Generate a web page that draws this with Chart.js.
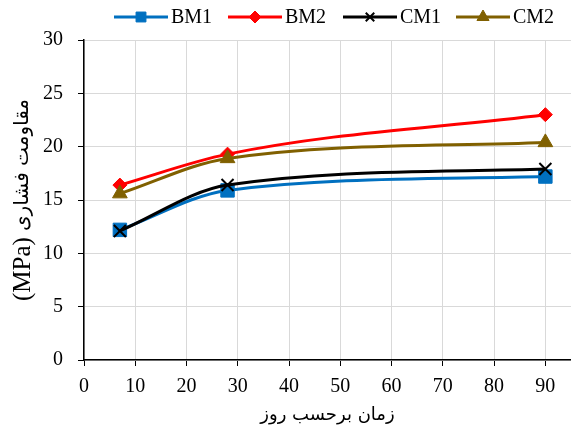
<!DOCTYPE html>
<html>
<head>
<meta charset="utf-8">
<script src="https://cdn.jsdelivr.net/npm/chart.js@4/dist/chart.umd.min.js"></script>
<style>
  html, body { margin: 0; padding: 0; background: #fff; }
  #wrap { width: 571px; height: 430px; position: relative; }
</style>
</head>
<body>
<div id="wrap"><canvas id="c" width="571" height="430"></canvas></div>
<script>
// Curing age (days) and compressive strength (MPa) per mix
const ages = [7, 28, 90];
const bm1 = [12.2, 15.9, 17.2];
const bm2 = [16.4, 19.3, 23.0];
const cm1 = [12.1, 16.4, 17.9];
const cm2 = [15.6, 18.9, 20.4];

const seriesNames = ['BM1', 'BM2', 'CM1', 'CM2'];
const xTitle = 'زمان برحسب روز';
const yTitleUnit = '(MPa)';
const yTitleText = 'مقاومت فشاری';

const SERIF = "'Liberation Serif', 'Times New Roman', serif";
const ARABIC = "'DejaVu Sans', 'Noto Sans', sans-serif";

const styles = [
  { color: '#0070C0', pointStyle: 'rect', radius: 9.5, legendRadius: 7, borderW: 1 },
  { color: '#FF0000', pointStyle: 'rectRot', radius: 7, legendRadius: 6, borderW: 1 },
  { color: '#000000', pointStyle: 'crossRot', radius: 8.5, legendRadius: 6, borderW: 2 },
  { color: '#806000', pointStyle: 'triangle', radius: 8.5, legendRadius: 7, borderW: 1 }
];

function toPoints(vals) { return ages.map((a, i) => ({ x: a, y: vals[i] })); }

const datasets = [bm1, bm2, cm1, cm2].map((vals, i) => ({
  label: seriesNames[i],
  data: toPoints(vals),
  borderColor: styles[i].color,
  backgroundColor: styles[i].color,
  borderWidth: 3,
  pointStyle: styles[i].pointStyle,
  pointRadius: styles[i].radius,
  pointHoverRadius: styles[i].radius,
  pointBorderWidth: styles[i].borderW,
  pointBorderColor: styles[i].color,
  pointBackgroundColor: styles[i].color,
  cubicInterpolationMode: 'monotone',
  order: 4 - i
}));

// Legend row: line segment with a marker, then the series name
const lineLegend = {
  id: 'lineLegend',
  afterDraw(chart) {
    const ctx = chart.ctx;
    const lineStarts = [114, 228, 343, 456];
    const y = 17;
    ctx.save();
    ctx.font = '20px ' + SERIF;
    ctx.textBaseline = 'middle';
    ctx.textAlign = 'left';
    seriesNames.forEach((name, i) => {
      const s = styles[i];
      const x0 = lineStarts[i], x1 = x0 + 54;
      ctx.strokeStyle = s.color;
      ctx.lineWidth = 3;
      ctx.beginPath();
      ctx.moveTo(x0, y);
      ctx.lineTo(x1, y);
      ctx.stroke();
      ctx.fillStyle = s.color;
      ctx.lineWidth = s.borderW;
      Chart.helpers.drawPoint(ctx, { pointStyle: s.pointStyle, radius: s.legendRadius, rotation: 0, borderWidth: s.borderW }, (x0 + x1) / 2, y);
      ctx.fillStyle = '#000';
      ctx.fillText(name, x1 + 3, y + 1);
    });
    ctx.restore();
  }
};

// Vertical axis title with a larger unit and smaller Persian label
const yTitlePlugin = {
  id: 'yTitle',
  afterDraw(chart) {
    const ctx = chart.ctx;
    ctx.save();
    ctx.translate(23, 200);
    ctx.rotate(-Math.PI / 2);
    ctx.fillStyle = '#000';
    ctx.textBaseline = 'middle';
    ctx.textAlign = 'left';
    const f1 = '25px ' + SERIF;
    const f2 = '20px ' + ARABIC;
    ctx.font = f1;
    const w1 = ctx.measureText(yTitleUnit).width;
    ctx.font = f2;
    const w2 = ctx.measureText(yTitleText).width;
    const gap = 6;
    const start = -(w1 + gap + w2) / 2;
    ctx.font = f1;
    ctx.fillText(yTitleUnit, start, 0);
    ctx.font = f2;
    ctx.direction = 'rtl';
    ctx.textAlign = 'right';
    ctx.fillText(yTitleText, start + w1 + gap + w2, 0);
    ctx.restore();
  }
};

// The plot runs to the right edge of the canvas: no extra side padding from the x scale
function noSidePadding(scale) {
  scale.height = 70;
  scale.paddingRight = 0;
  scale.paddingLeft = 0;
}

new Chart(document.getElementById('c'), {
  type: 'line',
  data: { datasets },
  options: {
    responsive: false,
    animation: false,
    events: [],
    layout: { autoPadding: false, padding: { top: 40, right: 0, left: 0, bottom: 0 } },
    plugins: { legend: { display: false }, tooltip: { enabled: false } },
    scales: {
      x: {
        type: 'linear',
        min: 0,
        max: 95,
        afterBuildTicks(scale) { scale.ticks = scale.ticks.filter(t => t.value <= 90.5); },
        afterFit: noSidePadding,
        ticks: { stepSize: 10, includeBounds: false, color: '#000', font: { family: SERIF, size: 20 }, padding: 9, maxRotation: 0 },
        grid: { color: '#d9d9d9', lineWidth: 1, tickColor: '#000', tickLength: 6, drawOnChartArea: true },
        border: { color: '#000', width: 1.5 },
        title: { display: true, text: xTitle, color: '#000', font: { family: ARABIC, size: 18 }, padding: { top: 0, bottom: 4 } }
      },
      y: {
        min: 0,
        max: 30,
        afterFit(scale) { scale.width = 84; },
        ticks: { stepSize: 5, color: '#000', font: { family: SERIF, size: 20 }, padding: 15 },
        grid: { color: '#d9d9d9', lineWidth: 1, tickColor: '#000', tickLength: 6 },
        border: { color: '#000', width: 1.5 }
      }
    }
  },
  plugins: [lineLegend, yTitlePlugin]
});
</script>
</body>
</html>
